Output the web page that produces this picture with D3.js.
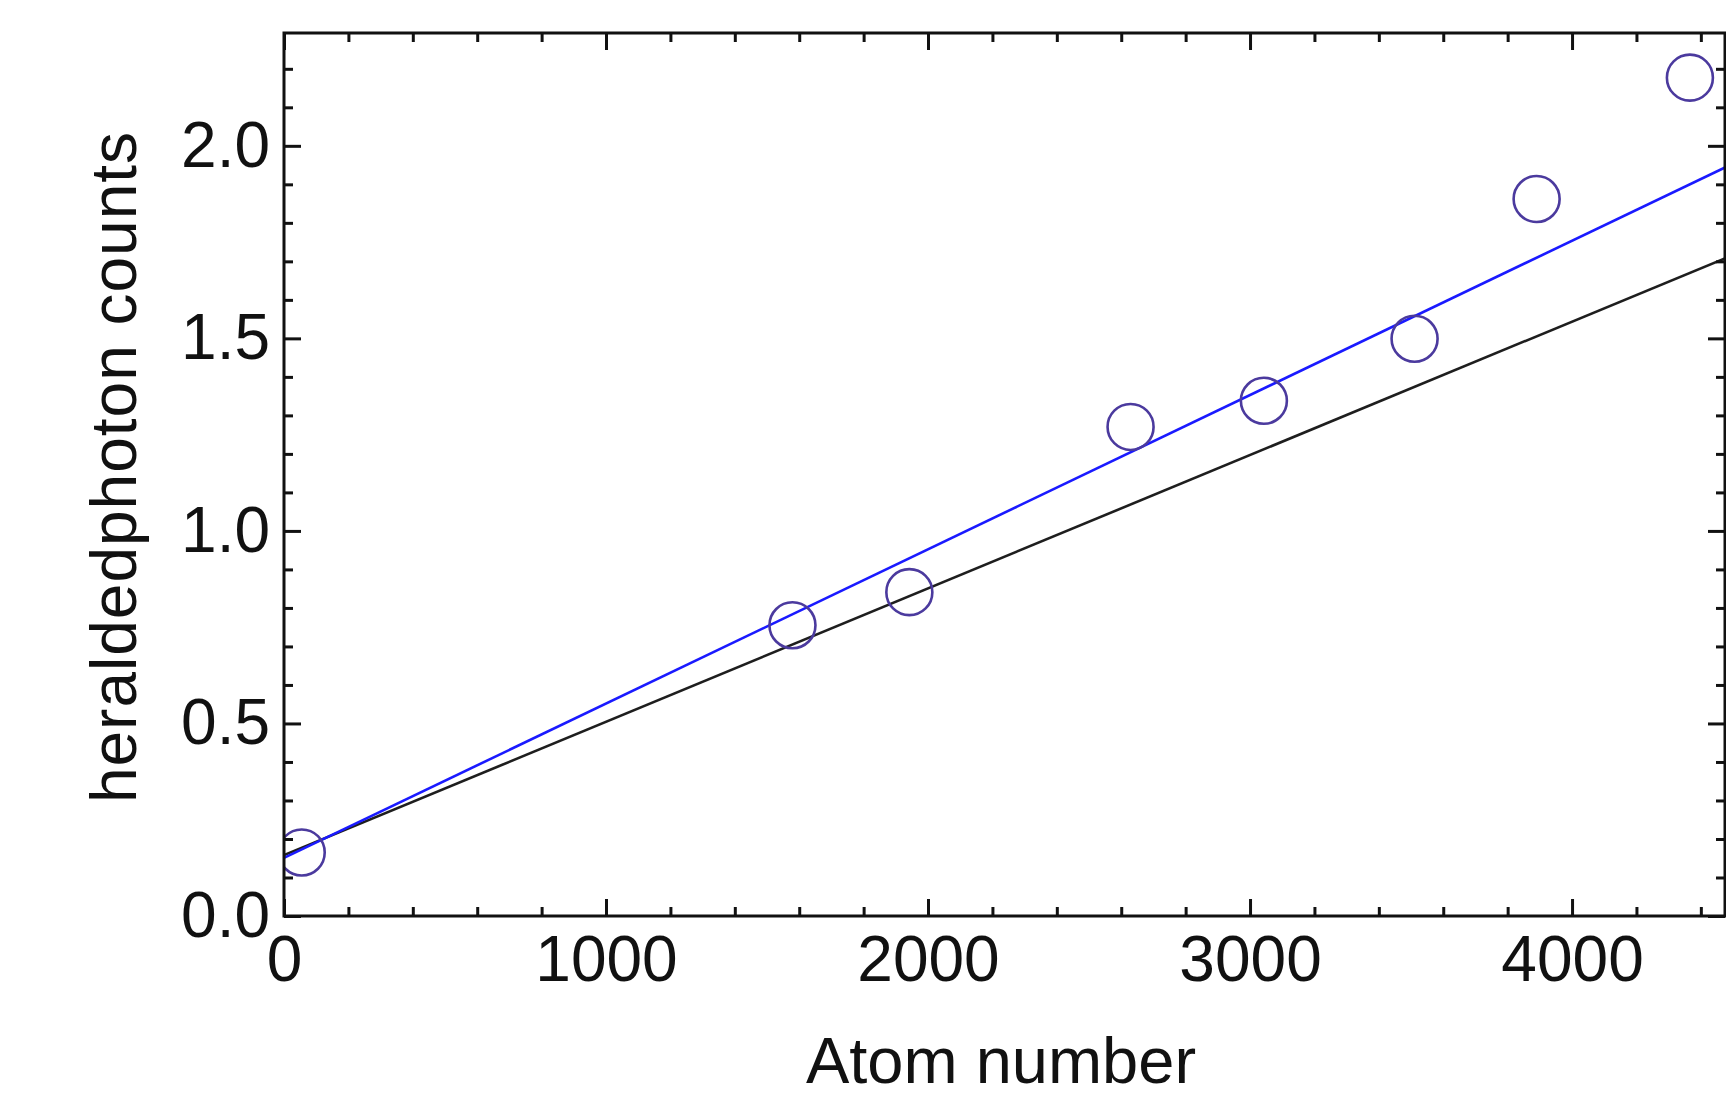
<!DOCTYPE html>
<html>
<head>
<meta charset="utf-8">
<script src="https://cdn.jsdelivr.net/npm/d3@7"></script>
<style>
    body { margin: 0; background: #ffffff; }
    svg text { font-family: "Liberation Sans", Arial, sans-serif; fill: #111; }
</style>
</head>
<body>
<div id="chart"></div>
<script>
// Measured points (atom number vs heralded photon counts)
var atomNumber = [55, 1579, 1942, 2629, 3043, 3511, 3890, 4366];
var photonCounts = [0.165, 0.755, 0.841, 1.270, 1.338, 1.499, 1.862, 2.177];

// Two straight fit lines, read at the left and right edges of the frame
var fitX = [0, 4478];
var blueFit = [0.151, 1.945];
var blackFit = [0.158, 1.709];

// Tick values
var xMajorTicks = [0, 1000, 2000, 3000, 4000];
var xMinorTicks = [200, 400, 600, 800, 1200, 1400, 1600, 1800, 2200, 2400, 2600, 2800,
    3200, 3400, 3600, 3800, 4200, 4400];
var yMajorTicks = [0, 0.5, 1.0, 1.5, 2.0];
var yMinorTicks = [0.1, 0.2, 0.3, 0.4, 0.6, 0.7, 0.8, 0.9, 1.1, 1.2, 1.3, 1.4,
    1.6, 1.7, 1.8, 1.9, 2.1, 2.2];

var xLabel = "Atom number";
var yLabel = "heraldedphoton counts";

function createScatterChart(containerId) {
    var width = 1726;
    var height = 1098;
    var margin = { top: 33, right: 1, bottom: 182, left: 284 };
    var majorSize = 17;
    var minorSize = 9;

    var svg = d3.select("#" + containerId)
        .append("svg")
        .attr("width", width)
        .attr("height", height);

    var x = d3.scaleLinear()
        .domain([0, 4475])
        .range([margin.left, width - margin.right]);

    var y = d3.scaleLinear()
        .domain([0, 2.293])
        .range([height - margin.bottom, margin.top]);

    var fmtY = d3.format(".1f");

    // Clip for the lines and circles
    svg.append("clipPath")
        .attr("id", "plot-clip")
        .append("rect")
        .attr("x", x(0))
        .attr("y", y(2.293))
        .attr("width", x(4475) - x(0))
        .attr("height", y(0) - y(2.293));

    var plot = svg.append("g").attr("clip-path", "url(#plot-clip)");

    // Fit lines
    var line = d3.line()
        .x(function(d) { return x(d[0]); })
        .y(function(d) { return y(d[1]); });

    plot.append("path")
        .datum(fitX.map(function(v, i) { return [v, blackFit[i]]; }))
        .attr("d", line)
        .attr("fill", "none")
        .attr("stroke", "#1e1e1e")
        .attr("stroke-width", 2.6);

    plot.append("path")
        .datum(fitX.map(function(v, i) { return [v, blueFit[i]]; }))
        .attr("d", line)
        .attr("fill", "none")
        .attr("stroke", "#1a1aff")
        .attr("stroke-width", 2.6);

    // Data points as open circles
    plot.selectAll("circle")
        .data(atomNumber)
        .enter()
        .append("circle")
        .attr("cx", function(d) { return x(d); })
        .attr("cy", function(d, i) { return y(photonCounts[i]); })
        .attr("r", 23)
        .attr("fill", "none")
        .attr("stroke", "#4b3a9e")
        .attr("stroke-width", 2.6);

    // Inward ticks on all four sides
    function drawTicks(axis, transform) {
        var g = svg.append("g")
            .attr("transform", transform)
            .call(axis);
        g.select(".domain").remove();
        g.selectAll("line").attr("stroke", "#111").attr("stroke-width", 3);
        return g;
    }

    var bottomY = "translate(0," + y(0) + ")";
    var topY = "translate(0," + y(2.293) + ")";
    var leftX = "translate(" + x(0) + ",0)";
    var rightX = "translate(" + x(4475) + ",0)";

    var xBottom = drawTicks(d3.axisBottom(x).tickValues(xMajorTicks).tickSize(-majorSize)
        .tickPadding(20).tickFormat(d3.format("d")), bottomY);
    drawTicks(d3.axisBottom(x).tickValues(xMinorTicks).tickSize(-minorSize).tickFormat(""), bottomY);
    drawTicks(d3.axisTop(x).tickValues(xMajorTicks).tickSize(-majorSize).tickFormat(""), topY);
    drawTicks(d3.axisTop(x).tickValues(xMinorTicks).tickSize(-minorSize).tickFormat(""), topY);

    var yLeft = drawTicks(d3.axisLeft(y).tickValues(yMajorTicks).tickSize(-majorSize)
        .tickPadding(14).tickFormat(fmtY), leftX);
    drawTicks(d3.axisLeft(y).tickValues(yMinorTicks).tickSize(-minorSize).tickFormat(""), leftX);
    drawTicks(d3.axisRight(y).tickValues(yMajorTicks).tickSize(-majorSize).tickFormat(""), rightX);
    drawTicks(d3.axisRight(y).tickValues(yMinorTicks).tickSize(-minorSize).tickFormat(""), rightX);

    xBottom.selectAll("text")
        .style("font-size", "64px")
        .style("font-family", "'Liberation Sans', Arial, sans-serif")
        .attr("fill", "#111");
    yLeft.selectAll("text")
        .style("font-size", "64px")
        .style("font-family", "'Liberation Sans', Arial, sans-serif")
        .attr("fill", "#111");

    // Frame
    svg.append("rect")
        .attr("x", x(0))
        .attr("y", y(2.293))
        .attr("width", x(4475) - x(0))
        .attr("height", y(0) - y(2.293))
        .attr("fill", "none")
        .attr("stroke", "#111")
        .attr("stroke-width", 3);

    // Axis titles
    svg.append("text")
        .attr("x", 1001)
        .attr("y", 1083)
        .attr("text-anchor", "middle")
        .style("font-size", "65px")
        .text(xLabel);

    svg.append("text")
        .attr("transform", "translate(136,467) rotate(-90)")
        .attr("text-anchor", "middle")
        .style("font-size", "64px")
        .style("letter-spacing", "1px")
        .text(yLabel);
}

createScatterChart("chart");
</script>
</body>
</html>
